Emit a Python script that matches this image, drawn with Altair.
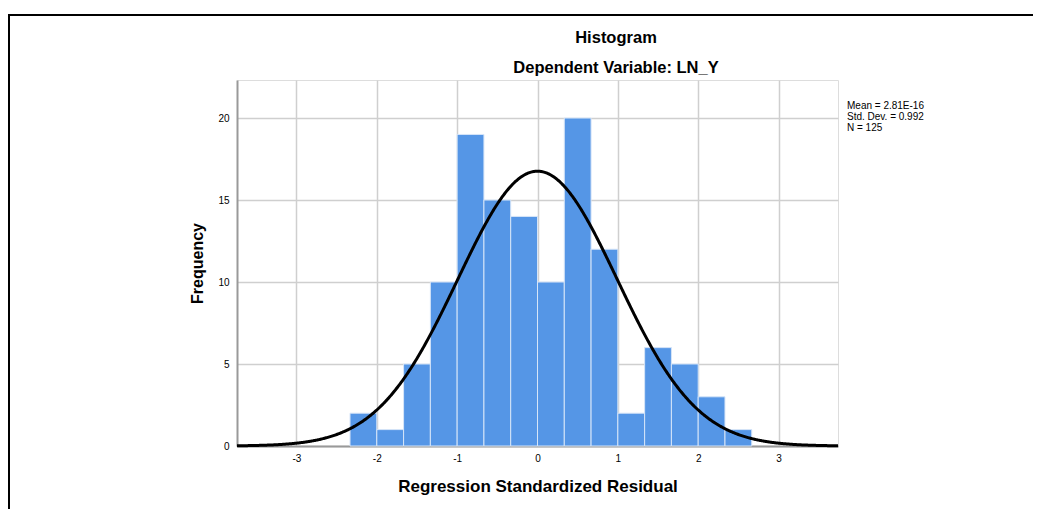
import altair as alt
import pandas as pd

# Histogram bins (width 1/3) and their frequencies
bin_start = [-7/3, -6/3, -5/3, -4/3, -3/3, -2/3, -1/3, 0/3, 1/3, 2/3, 3/3, 4/3, 5/3, 6/3, 7/3]
bin_end = [-6/3, -5/3, -4/3, -3/3, -2/3, -1/3, 0/3, 1/3, 2/3, 3/3, 4/3, 5/3, 6/3, 7/3, 8/3]
counts = [2, 1, 5, 10, 19, 15, 14, 10, 20, 12, 2, 6, 5, 3, 1]

# Summary statistics of the residuals
mean_val = 2.81e-16
sd_val = 0.992
n_val = 125
bin_width = 1 / 3
stats_lines = ["Mean = 2.81E-16", "Std. Dev. = 0.992", "N = 125"]
title_lines = ["Histogram", "Dependent Variable: LN_Y"]

x_ticks = [-3, -2, -1, 0, 1, 2, 3]
y_ticks = [0, 5, 10, 15, 20]

FONT = "Liberation Sans"

hist_df = pd.DataFrame({"start": bin_start, "end": bin_end, "count": counts})

xscale = alt.Scale(domain=[-3.74, 3.74], nice=False, zero=False)
yscale = alt.Scale(domain=[0, 22.32], nice=False)

x_axis = alt.Axis(values=x_ticks, labelExpr="'' + datum.value",
                  title="Regression Standardized Residual",
                  titleFont=FONT, titleFontSize=17, titleFontWeight="bold",
                  titleColor="black", titlePadding=15,
                  labelFont=FONT, labelFontSize=10, labelColor="black",
                  labelPadding=7, ticks=False, tickSize=0,
                  domainColor="#999999", domainWidth=2,
                  gridColor="#cfcfcf", gridWidth=1.5)
y_axis = alt.Axis(values=y_ticks, labelExpr="'' + datum.value", title="Frequency",
                  titleFont=FONT, titleFontSize=16, titleFontWeight="bold",
                  titleColor="black", titlePadding=12,
                  labelFont=FONT, labelFontSize=10, labelColor="black",
                  labelPadding=8, ticks=False, tickSize=0,
                  domainColor="#999999", domainWidth=2,
                  gridColor="#cfcfcf", gridWidth=1.5)

bars = alt.Chart(hist_df).mark_bar(
    color="#5596e6", stroke="#d6e5f8", strokeWidth=1
).encode(
    x=alt.X("start:Q", scale=xscale, axis=x_axis),
    x2="end:Q",
    y=alt.Y("count:Q", scale=yscale, axis=y_axis),
    y2=alt.datum(0),
)

curve = alt.Chart(alt.sequence(-3.74, 3.745, 0.01, as_="x")).transform_calculate(
    dens=f"{n_val} * {bin_width} * densityNormal(datum.x, {mean_val}, {sd_val})"
).mark_line(color="black", strokeWidth=3).encode(
    x=alt.X("x:Q", scale=xscale),
    y=alt.Y("dens:Q", scale=yscale),
)

stats = alt.Chart(pd.DataFrame({"t": ["\n".join(stats_lines)]})).mark_text(
    align="left", baseline="top", font=FONT, fontSize=10, lineHeight=11,
    lineBreak="\n", color="black"
).encode(text="t:N", x=alt.value(610), y=alt.value(21))

title1 = alt.Chart(pd.DataFrame({"t": [title_lines[0]]})).mark_text(
    align="center", baseline="middle", font=FONT, fontSize=16.5, fontWeight="bold",
    color="black"
).encode(text="t:N", x=alt.value(379), y=alt.value(-42))

title2 = alt.Chart(pd.DataFrame({"t": [title_lines[1]]})).mark_text(
    align="center", baseline="middle", font=FONT, fontSize=16.5, fontWeight="bold",
    color="black"
).encode(text="t:N", x=alt.value(379), y=alt.value(-12))

frame_df = pd.DataFrame({"a": [0]})
frame_top = alt.Chart(frame_df).mark_rule(color="black", strokeWidth=2).encode(
    x=alt.value(-229), x2=alt.value(804), y=alt.value(-65))
frame_left = alt.Chart(frame_df).mark_rule(color="black", strokeWidth=2).encode(
    x=alt.value(-228), y=alt.value(-66), y2=alt.value(445))

chart = alt.layer(bars, curve, stats, title1, title2, frame_top, frame_left).properties(
    width=601, height=366,
    autosize=alt.AutoSizeParams(type="none"),
    padding={"left": 229, "top": 72, "right": 195, "bottom": 63},
).configure_view(stroke=None).configure(background="white")

chart.save("out.html", embed_options={"renderer": "svg", "actions": False})
